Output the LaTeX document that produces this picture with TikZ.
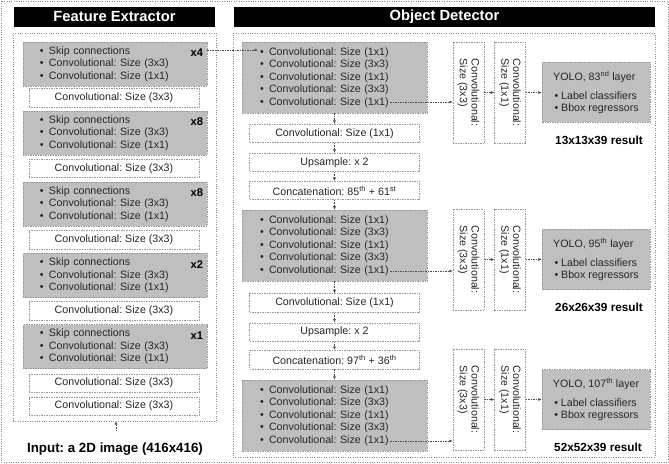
\documentclass[tikz,border=0pt]{standalone}
\usepackage{fontspec}
\setmainfont{Liberation Sans}
\frenchspacing
\usetikzlibrary{arrows.meta}
\newcommand{\itm}[1][9bp]{\makebox[#1][l]{\textbullet}}
\tikzset{
    frame-box/.style = {draw=black!45, dotted, rectangle, inner sep=0pt},
    title-bar/.style = {fill=black, text=white, inner sep=0pt, minimum height=20bp, font=\fontsize{14.8}{16}\selectfont\bfseries},
    layer-box/.style = {draw=black!40, dash pattern=on 1.5bp off 1bp, line width=0.5bp, rectangle, inner sep=0pt, text=black!85, font=\fontsize{10.7}{12.5}\selectfont},
    skip-box/.style = {layer-box, fill=black!25, align=left, inner xsep=17bp, text width=150bp, minimum width=184bp, minimum height=44bp},
    conv-box/.style = {layer-box, fill=white, minimum width=170bp, minimum height=18.5bp},
    head-box/.style = {layer-box, fill=black!25, align=left, inner xsep=18bp, text width=149bp, minimum width=185bp, minimum height=71bp},
    vconv-box/.style = {layer-box, fill=white, rotate=-90, align=left, minimum width=101bp, minimum height=31bp, font=\fontsize{10.7}{11.6}\selectfont},
    yolo-box/.style = {layer-box, fill=black!25, align=left, minimum width=108bp, minimum height=60bp},
    rep-label/.style = {anchor=east, inner sep=0pt, font=\fontsize{11.2}{12}\selectfont\bfseries},
    result-label/.style = {inner sep=0pt, font=\fontsize{11.8}{13}\selectfont\bfseries},
    link/.style = {draw=black!70, line width=0.6bp, dash pattern=on 1.5bp off 1bp, -{Latex[length=3.5bp,width=3bp]}},
}

\begin{document}
\begin{tikzpicture}[x=1bp,y=-1bp]
\useasboundingbox (0,0) rectangle (669,464);
\draw[frame-box] (1,1) rectangle (668,462);
\node[frame-box, minimum width=203bp, minimum height=388bp] (fe-frame) at (114.5,227) {};
\node[frame-box, minimum width=422bp, minimum height=424bp] (od-frame) at (444,245) {};
\node[title-bar, minimum width=201bp] (fe-title) at (114.5,17) {Feature Extractor};
\node[title-bar, minimum width=421bp] (od-title) at (444.5,17) {Object Detector};

% feature extractor
\node[skip-box] (fe1) at (115,64) {\itm Skip connections\\ \itm Convolutional: Size (3x3)\\ \itm Convolutional: Size (1x1)};
\node[rep-label] at ([xshift=-4bp,yshift=-11bp]fe1.north east) {x4};
\node[conv-box] (fe1c) at (114,98) {Convolutional: Size (3x3)};
\node[skip-box] (fe2) at (115,133) {\itm Skip connections\\ \itm Convolutional: Size (3x3)\\ \itm Convolutional: Size (1x1)};
\node[rep-label] at ([xshift=-4bp,yshift=-11bp]fe2.north east) {x8};
\node[conv-box] (fe2c) at (114,168.5) {Convolutional: Size (3x3)};
\node[skip-box] (fe3) at (115,204) {\itm Skip connections\\ \itm Convolutional: Size (3x3)\\ \itm Convolutional: Size (1x1)};
\node[rep-label] at ([xshift=-4bp,yshift=-11bp]fe3.north east) {x8};
\node[conv-box] (fe3c) at (114,240) {Convolutional: Size (3x3)};
\node[skip-box] (fe4) at (115,275.5) {\itm Skip connections\\ \itm Convolutional: Size (3x3)\\ \itm Convolutional: Size (1x1)};
\node[rep-label] at ([xshift=-4bp,yshift=-11bp]fe4.north east) {x2};
\node[conv-box] (fe4c) at (114,311) {Convolutional: Size (3x3)};
\node[skip-box] (fe5) at (115,346.5) {\itm Skip connections\\ \itm Convolutional: Size (3x3)\\ \itm Convolutional: Size (1x1)};
\node[rep-label] at ([xshift=-4bp,yshift=-11bp]fe5.north east) {x1};
\node[conv-box] (fe5c) at (114,383) {Convolutional: Size (3x3)};
\node[conv-box] (fe6c) at (114,406) {Convolutional: Size (3x3)};
\node[anchor=base, inner sep=0pt, font=\fontsize{13.4}{15}\selectfont\bfseries] (input) at (115,452) {Input: a 2D image (416x416)};
\coordinate (in-top) at (116,431);
\draw[link] (in-top) -- (in-top |- fe-frame.south);

% object detector
\node[head-box] (od1) at (334.5,77.5) {\itm Convolutional: Size (1x1)\\ \itm Convolutional: Size (3x3)\\ \itm Convolutional: Size (1x1)\\ \itm Convolutional: Size (3x3)\\ \itm Convolutional: Size (1x1)};
\node[conv-box] (od1c) at (334.5,133.5) {Convolutional: Size (1x1)};
\node[conv-box] (od1u) at (334.5,162.5) {Upsample: x 2};
\node[conv-box] (od1k) at (334.5,190.5) {Concatenation: 85\textsuperscript{th} + 61\textsuperscript{st}};
\node[head-box] (od2) at (334.5,245.5) {\itm Convolutional: Size (1x1)\\ \itm Convolutional: Size (3x3)\\ \itm Convolutional: Size (1x1)\\ \itm Convolutional: Size (3x3)\\ \itm Convolutional: Size (1x1)};
\node[conv-box] (od2c) at (334.5,303) {Convolutional: Size (1x1)};
\node[conv-box] (od2u) at (334.5,332) {Upsample: x 2};
\node[conv-box] (od2k) at (334.5,359.5) {Concatenation: 97\textsuperscript{th} + 36\textsuperscript{th}};
\node[head-box] (od3) at (334.5,415.5) {\itm Convolutional: Size (1x1)\\ \itm Convolutional: Size (3x3)\\ \itm Convolutional: Size (1x1)\\ \itm Convolutional: Size (3x3)\\ \itm Convolutional: Size (1x1)};
\draw[link] (od1) -- (od1c);
\draw[link] (od1c) -- (od1u);
\draw[link] (od1u) -- (od1k);
\draw[link] (od1k) -- (od2);
\draw[link] (od2) -- (od2c);
\draw[link] (od2c) -- (od2u);
\draw[link] (od2u) -- (od2k);
\draw[link] (od2k) -- (od3);

\coordinate (od-in) at (258,50);
\draw[link] (fe1.east |- od-in) -- (od-in);

% output heads
\node[vconv-box] (v1a) at (468.5,92.5) {Convolutional:\\Size (3x3)};
\node[vconv-box] (v1b) at (510,92.5) {Convolutional:\\Size (1x1)};
\node[yolo-box] (y1) at (596,92.5) {YOLO, 83\textsuperscript{nd} layer\\[6.5bp] \hspace*{1.5bp}\itm[6.5bp]Label classifiers\\ \hspace*{1.5bp}\itm[6.5bp]Bbox regressors};
\node[result-label] (r1) at (599,140) {13x13x39 result};
\node[vconv-box] (v2a) at (468.5,259.5) {Convolutional:\\Size (3x3)};
\node[vconv-box] (v2b) at (510,259.5) {Convolutional:\\Size (1x1)};
\node[yolo-box] (y2) at (596,259.5) {YOLO, 95\textsuperscript{th} layer\\[6.5bp] \hspace*{1.5bp}\itm[6.5bp]Label classifiers\\ \hspace*{1.5bp}\itm[6.5bp]Bbox regressors};
\node[result-label] (r2) at (599,307) {26x26x39 result};
\node[vconv-box] (v3a) at (468.5,399.5) {Convolutional:\\Size (3x3)};
\node[vconv-box] (v3b) at (510,399.5) {Convolutional:\\Size (1x1)};
\node[yolo-box] (y3) at (596,399.5) {YOLO, 107\textsuperscript{th} layer\\[6.5bp] \hspace*{1.5bp}\itm[6.5bp]Label classifiers\\ \hspace*{1.5bp}\itm[6.5bp]Bbox regressors};
\node[result-label] (r3) at (598,447) {52x52x39 result};

\coordinate (od1-out) at (390,102);
\coordinate (od2-out) at (390,271);
\coordinate (od3-out) at (390,441);
\draw[link] (od1-out) -- (od1-out -| v1a.south);
\draw[link] (od2-out) -- (od2-out -| v2a.south);
\draw[link] (od3-out) -- (od3-out -| v3a.south);
\draw[link] (v1a) -- (v1b);
\draw[link] (v1b) -- (y1);
\draw[link] (v2a) -- (v2b);
\draw[link] (v2b) -- (y2);
\draw[link] (v3a) -- (v3b);
\draw[link] (v3b) -- (y3);
\end{tikzpicture}
\end{document}
